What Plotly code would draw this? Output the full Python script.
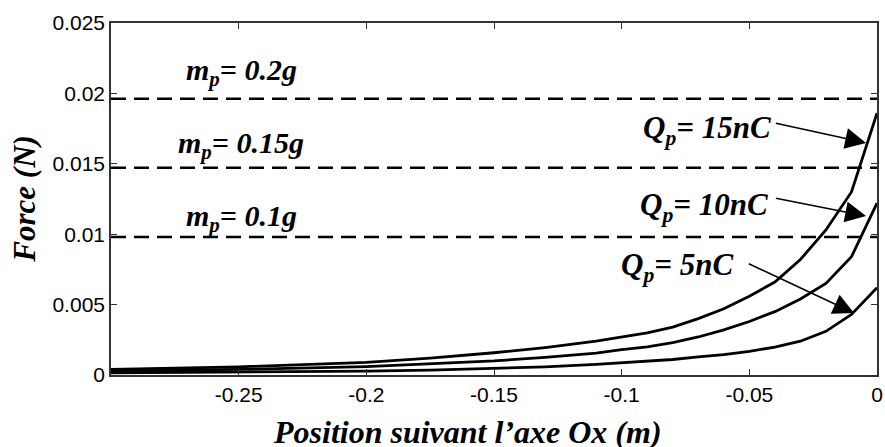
import plotly.graph_objects as go

# Position along Ox (m)
position = [-0.30, -0.25, -0.20, -0.175, -0.15, -0.13, -0.11, -0.10, -0.09,
            -0.08, -0.07, -0.06, -0.05, -0.04, -0.03, -0.02, -0.01, 0.00]

# Electrostatic force (N) for each particle charge
force_15nC = [0.00040, 0.00058, 0.00090, 0.00120, 0.00158, 0.00195, 0.00240, 0.00270, 0.00300,
              0.00340, 0.00400, 0.00470, 0.00560, 0.00660, 0.00820, 0.01030, 0.01300, 0.01860]
force_10nC = [0.00028, 0.00040, 0.00060, 0.00078, 0.00100, 0.00125, 0.00155, 0.00180, 0.00200,
              0.00230, 0.00270, 0.00320, 0.00380, 0.00450, 0.00540, 0.00650, 0.00840, 0.01220]
force_5nC = [0.00015, 0.00020, 0.00028, 0.00034, 0.00045, 0.00058, 0.00075, 0.00085, 0.00097,
             0.00110, 0.00128, 0.00145, 0.00168, 0.00198, 0.00240, 0.00310, 0.00430, 0.00620]

# Particle weights m_p * g (N)
weight_levels = [0.00981, 0.014715, 0.01962]
weight_labels = ["0.1g", "0.15g", "0.2g"]

x_tickvals = [-0.25, -0.2, -0.15, -0.1, -0.05, 0]
x_ticktext = ["-0.25", "-0.2", "-0.15", "-0.1", "-0.05", "0"]
y_tickvals = [0, 0.005, 0.01, 0.015, 0.02, 0.025]
y_ticktext = ["0", "0.005", "0.01", "0.015", "0.02", "0.025"]

X_RANGE = [-0.3, 0.0]
SERIF = "Liberation Serif"

fig = go.Figure()

for level in weight_levels:
    fig.add_trace(go.Scatter(
        x=X_RANGE, y=[level, level], mode="lines",
        line=dict(color="black", width=2.5, dash="15px,8px"),
        showlegend=False, hoverinfo="skip"))

for series in (force_15nC, force_10nC, force_5nC):
    fig.add_trace(go.Scatter(
        x=position, y=series, mode="lines",
        line=dict(color="black", width=2.8),
        showlegend=False))

label_font = dict(family=SERIF, size=30, color="black")
charge_font = dict(family=SERIF, size=31, color="black")

# Weight labels above each dashed line
weight_label_pos = [(-0.2715, 0.01115), (-0.2746, 0.01633), (-0.2715, 0.02152)]
for (lx, ly), txt in zip(weight_label_pos, weight_labels):
    fig.add_annotation(x=lx, y=ly, xref="x", yref="y", xanchor="left", yanchor="middle",
                       text=f"<b><i>m<sub>p</sub>= {txt}</i></b>", showarrow=False,
                       font=label_font)

# Charge labels with arrows pointing at their curves
charge_labels = ["15nC", "10nC", "5nC"]
charge_text_pos = [(-0.0925, 0.0174), (-0.0937, 0.01193), (-0.1010, 0.00767)]
arrow_tail = [(-0.0402, 0.0179), (-0.0402, 0.01257), (-0.0508, 0.00795)]
arrow_head = [(-0.0043, 0.01648), (-0.0043, 0.01129), (-0.0090, 0.0044)]

for txt, (tx, ty), (ax, ay), (hx, hy) in zip(charge_labels, charge_text_pos, arrow_tail, arrow_head):
    fig.add_annotation(x=tx, y=ty, xref="x", yref="y", xanchor="left", yanchor="middle",
                       text=f"<b><i>Q<sub>p</sub>= {txt}</i></b>", showarrow=False,
                       font=charge_font)
    fig.add_annotation(x=hx, y=hy, ax=ax, ay=ay, xref="x", yref="y", axref="x", ayref="y",
                       text="", showarrow=True, arrowhead=2, arrowsize=2.6,
                       arrowwidth=1.6, arrowcolor="black", standoff=0)

# Axis titles
fig.add_annotation(x=0.465, y=-0.162, xref="paper", yref="paper", xanchor="center", yanchor="middle",
                   text="<b><i>Position suivant l’axe Ox (m)</i></b>", showarrow=False,
                   font=dict(family=SERIF, size=32, color="black"))
fig.add_annotation(x=-0.114, y=0.5, xref="paper", yref="paper", xanchor="center", yanchor="middle",
                   text="<b><i>Force (N)</i></b>", showarrow=False, textangle=-90,
                   font=dict(family=SERIF, size=31, color="black"))

axis_common = dict(showline=True, linecolor="#333333", linewidth=1.6, mirror="ticks",
                   ticks="inside", ticklen=6, tickwidth=1.3, tickcolor="#333333",
                   showgrid=False, zeroline=False, ticklabeloverflow="allow",
                   tickfont=dict(family="Liberation Sans", size=21, color="black"))

fig.update_xaxes(range=X_RANGE, tickvals=x_tickvals, ticktext=x_ticktext, **axis_common)
fig.update_yaxes(range=[0, 0.025], tickvals=y_tickvals, ticktext=y_ticktext, **axis_common)

fig.update_layout(width=885, height=447, margin=dict(l=111, r=2, t=23, b=72),
                  paper_bgcolor="white", plot_bgcolor="white", showlegend=False)

fig.write_html("out.html")
